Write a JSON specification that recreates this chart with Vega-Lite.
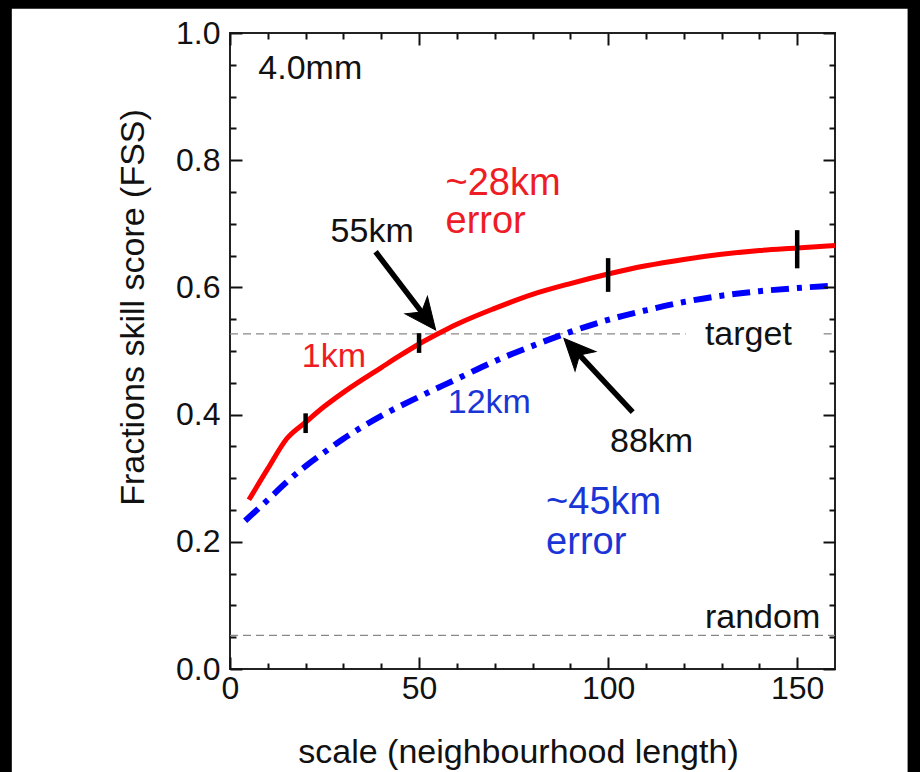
{
  "$schema": "https://vega.github.io/schema/vega-lite/v6.json",
  "width": 605,
  "height": 636,
  "autosize": {"type": "none"},
  "padding": {"left": 230, "top": 33, "right": 85, "bottom": 103},
  "background": "#000000",
  "config": {
    "view": {"stroke": null},
    "font": "Liberation Sans"
  },
  "datasets": {
    "red": [
      {"scale": 5, "fss": 0.266}, {"scale": 10, "fss": 0.315}, {"scale": 15, "fss": 0.362},
      {"scale": 20, "fss": 0.388}, {"scale": 25, "fss": 0.413}, {"scale": 30, "fss": 0.435},
      {"scale": 35, "fss": 0.455}, {"scale": 40, "fss": 0.474}, {"scale": 45, "fss": 0.493},
      {"scale": 50, "fss": 0.511}, {"scale": 55, "fss": 0.527}, {"scale": 60, "fss": 0.542},
      {"scale": 70, "fss": 0.567}, {"scale": 80, "fss": 0.589}, {"scale": 90, "fss": 0.606},
      {"scale": 100, "fss": 0.621}, {"scale": 110, "fss": 0.634}, {"scale": 120, "fss": 0.644},
      {"scale": 130, "fss": 0.652}, {"scale": 140, "fss": 0.658}, {"scale": 150, "fss": 0.662},
      {"scale": 160, "fss": 0.666}
    ],
    "blue": [
      {"scale": 4, "fss": 0.233}, {"scale": 10, "fss": 0.266}, {"scale": 15, "fss": 0.294},
      {"scale": 20, "fss": 0.319}, {"scale": 25, "fss": 0.341}, {"scale": 30, "fss": 0.362},
      {"scale": 40, "fss": 0.398}, {"scale": 50, "fss": 0.428}, {"scale": 60, "fss": 0.456},
      {"scale": 70, "fss": 0.484}, {"scale": 80, "fss": 0.508}, {"scale": 90, "fss": 0.53},
      {"scale": 100, "fss": 0.549}, {"scale": 110, "fss": 0.564}, {"scale": 120, "fss": 0.577},
      {"scale": 130, "fss": 0.587}, {"scale": 140, "fss": 0.594}, {"scale": 150, "fss": 0.599},
      {"scale": 160, "fss": 0.603}
    ],
    "errbars": [
      {"scale": 20, "lo": 0.371, "hi": 0.402},
      {"scale": 50, "lo": 0.497, "hi": 0.528},
      {"scale": 100, "lo": 0.593, "hi": 0.646},
      {"scale": 150, "lo": 0.63, "hi": 0.69}
    ],
    "refs": [
      {"line": "target", "from": 0, "to": 120.5, "fss": 0.527},
      {"line": "target", "from": 157, "to": 160, "fss": 0.527},
      {"line": "random", "from": 0, "to": 160, "fss": 0.053}
    ],
    "arrows": [
      {"label": "55km", "tailx": 38.5, "taily": 0.656, "neckx": 51.1, "necky": 0.558, "tipx": 54.4, "tipy": 0.533, "dir": 142},
      {"label": "88km", "tailx": 106.5, "taily": 0.404, "neckx": 91.9, "necky": 0.497, "tipx": 88.3, "tipy": 0.52, "dir": 317}
    ],
    "labels": [
      {"text": "4.0mm", "scale": 7.5, "fss": 0.928, "series": "none", "kind": "label"},
      {"text": "~28km", "scale": 57, "fss": 0.745, "series": "1km", "kind": "error"},
      {"text": "error", "scale": 57, "fss": 0.685, "series": "1km", "kind": "error"},
      {"text": "55km", "scale": 26.6, "fss": 0.671, "series": "none", "kind": "label"},
      {"text": "1km", "scale": 19.0, "fss": 0.475, "series": "1km", "kind": "label"},
      {"text": "12km", "scale": 57.6, "fss": 0.4025, "series": "12km", "kind": "label"},
      {"text": "88km", "scale": 100.5, "fss": 0.341, "series": "none", "kind": "label"},
      {"text": "target", "scale": 125.6, "fss": 0.509, "series": "none", "kind": "label"},
      {"text": "~45km", "scale": 83.6, "fss": 0.243, "series": "12km", "kind": "error"},
      {"text": "error", "scale": 83.6, "fss": 0.181, "series": "12km", "kind": "error"},
      {"text": "random", "scale": 125.6, "fss": 0.064, "series": "none", "kind": "label"}
    ]
  },
  "resolve": {"axis": {"x": "independent", "y": "independent"}},
  "layer": [
    {
      "data": {"values": [{"panel": "paper"}]},
      "mark": {"type": "rect", "fill": "#ffffff", "clip": false},
      "encoding": {
        "x": {
          "datum": -57.7, "type": "quantitative",
          "scale": {"domain": [0, 160], "nice": false, "zero": false},
          "axis": {
            "orient": "bottom", "offset": -12,
            "values": [0, 50, 100, 150],
            "format": "d", "domain": false,
            "labelFontSize": 32, "labelColor": "#111111", "labelFont": "Liberation Sans",
            "labelPadding": 4, "labelFlush": false, "labelOverlap": false,
            "ticks": true, "tickSize": 12, "tickOpacity": 1,
            "tickColor": "#111111", "tickWidth": 2,
            "grid": false, "zindex": 2,
            "title": "scale (neighbourhood length)",
            "titleFont": "Liberation Sans", "titleFontSize": 34, "titleFontWeight": "normal", "titleColor": "#111111",
            "titleX": 288, "titleY": 105, "titleAlign": "center", "titleBaseline": "alphabetic"
          }
        },
        "x2": {"datum": 179.2},
        "y": {
          "datum": -0.17, "type": "quantitative",
          "scale": {"domain": [0, 1], "nice": false, "zero": false},
          "axis": {
            "orient": "left", "offset": -12,
            "values": [0, 0.2, 0.4, 0.6, 0.8, 1.0],
            "format": ".1f", "domain": false,
            "labelFontSize": 32, "labelColor": "#111111", "labelFont": "Liberation Sans",
            "labelPadding": 10, "labelFlush": false, "labelOverlap": false,
            "ticks": true, "tickSize": 12, "tickOpacity": 1,
            "tickColor": "#111111", "tickWidth": 2,
            "grid": false, "zindex": 2,
            "title": "Fractions skill score (FSS)",
            "titleFont": "Liberation Sans", "titleFontSize": 34, "titleFontWeight": "normal", "titleColor": "#111111",
            "titleX": -99, "titleY": 274, "titleAngle": 270, "titleAlign": "center", "titleBaseline": "alphabetic"
          }
        },
        "y2": {"datum": 1.038}
      }
    },
    {
      "data": {"values": [{"panel": "frame"}]},
      "mark": {"type": "rect", "fill": null, "fillOpacity": 0, "stroke": "#222222", "strokeWidth": 2},
      "encoding": {
        "x": {"datum": 0, "type": "quantitative", "axis": null},
        "x2": {"datum": 160},
        "y": {"datum": 0, "type": "quantitative", "axis": null},
        "y2": {"datum": 1}
      }
    },
    {
      "data": {"name": "refs"},
      "mark": {"type": "rule", "color": "#888888", "strokeWidth": 1.3, "strokeDash": [8, 5]},
      "encoding": {
        "x": {
          "field": "from", "type": "quantitative",
          "axis": {
            "orient": "bottom", "offset": -6,
            "values": [10, 20, 30, 40, 60, 70, 80, 90, 110, 120, 130, 140],
            "labels": false, "title": null, "domain": false,
            "ticks": true, "tickSize": 6, "tickOpacity": 1, "tickColor": "#111111", "tickWidth": 2,
            "grid": false, "zindex": 1
          }
        },
        "x2": {"field": "to"},
        "y": {
          "field": "fss", "type": "quantitative",
          "axis": {
            "orient": "left", "offset": -6,
            "values": [0.05, 0.1, 0.15, 0.25, 0.3, 0.35, 0.45, 0.5, 0.55, 0.65, 0.7, 0.75, 0.85, 0.9, 0.95],
            "labels": false, "title": null, "domain": false,
            "ticks": true, "tickSize": 6, "tickOpacity": 1, "tickColor": "#111111", "tickWidth": 2,
            "grid": false, "zindex": 1
          }
        }
      }
    },
    {
      "data": {"name": "blue"},
      "mark": {"type": "line", "color": "#0000ff", "strokeWidth": 6, "strokeDash": [18, 8, 5, 8], "interpolate": "monotone"},
      "encoding": {
        "x": {
          "field": "scale", "type": "quantitative",
          "axis": {
            "orient": "top", "offset": -6,
            "values": [10, 20, 30, 40, 60, 70, 80, 90, 110, 120, 130, 140],
            "labels": false, "title": null, "domain": false,
            "ticks": true, "tickSize": 6, "tickOpacity": 1, "tickColor": "#111111", "tickWidth": 2,
            "grid": false, "zindex": 1
          }
        },
        "y": {
          "field": "fss", "type": "quantitative",
          "axis": {
            "orient": "right", "offset": -6,
            "values": [0.05, 0.1, 0.15, 0.25, 0.3, 0.35, 0.45, 0.5, 0.55, 0.65, 0.7, 0.75, 0.85, 0.9, 0.95],
            "labels": false, "title": null, "domain": false,
            "ticks": true, "tickSize": 6, "tickOpacity": 1, "tickColor": "#111111", "tickWidth": 2,
            "grid": false, "zindex": 1
          }
        }
      }
    },
    {
      "data": {"name": "red"},
      "mark": {"type": "line", "color": "#ff0000", "strokeWidth": 5, "interpolate": "monotone"},
      "encoding": {
        "x": {
          "field": "scale", "type": "quantitative",
          "axis": {
            "orient": "top", "offset": -12,
            "values": [0, 50, 100, 150],
            "labels": false, "title": null, "domain": false,
            "ticks": true, "tickSize": 12, "tickOpacity": 1, "tickColor": "#111111", "tickWidth": 2,
            "grid": false, "zindex": 2
          }
        },
        "y": {
          "field": "fss", "type": "quantitative",
          "axis": {
            "orient": "right", "offset": -12,
            "values": [0, 0.2, 0.4, 0.6, 0.8, 1.0],
            "labels": false, "title": null, "domain": false,
            "ticks": true, "tickSize": 12, "tickOpacity": 1, "tickColor": "#111111", "tickWidth": 2,
            "grid": false, "zindex": 2
          }
        }
      }
    },
    {
      "data": {"name": "errbars"},
      "mark": {"type": "rule", "color": "#000000", "strokeWidth": 4.5},
      "encoding": {
        "x": {"field": "scale", "type": "quantitative", "axis": null},
        "y": {"field": "lo", "type": "quantitative", "axis": null},
        "y2": {"field": "hi"}
      }
    },
    {
      "data": {"name": "arrows"},
      "mark": {"type": "rule", "color": "#000000", "strokeWidth": 5.5, "strokeCap": "butt"},
      "encoding": {
        "x": {"field": "tailx", "type": "quantitative", "axis": null},
        "y": {"field": "taily", "type": "quantitative", "axis": null},
        "x2": {"field": "neckx"},
        "y2": {"field": "necky"}
      }
    },
    {
      "data": {"name": "arrows"},
      "mark": {"type": "point", "shape": "M0,0L-0.9,2L0,1.45L0.9,2Z", "filled": true, "fill": "#000000", "stroke": "#000000", "strokeWidth": 1, "opacity": 1, "size": 1000},
      "encoding": {
        "x": {"field": "tipx", "type": "quantitative", "axis": null},
        "y": {"field": "tipy", "type": "quantitative", "axis": null},
        "angle": {"field": "dir", "type": "quantitative", "scale": null}
      }
    },
    {
      "data": {"name": "labels"},
      "transform": [{"filter": "datum.kind === 'label'"}],
      "mark": {"type": "text", "align": "left", "baseline": "alphabetic", "fontSize": 34, "font": "Liberation Sans"},
      "encoding": {
        "x": {"field": "scale", "type": "quantitative", "axis": null},
        "y": {"field": "fss", "type": "quantitative", "axis": null},
        "text": {"field": "text", "type": "nominal"},
        "color": {
          "field": "series", "type": "nominal",
          "scale": {"domain": ["1km", "12km", "none"], "range": ["#ee1c25", "#1a35d6", "#111111"]},
          "legend": null
        }
      }
    },
    {
      "data": {"name": "labels"},
      "transform": [{"filter": "datum.kind === 'error'"}],
      "mark": {"type": "text", "align": "left", "baseline": "alphabetic", "fontSize": 38, "font": "Liberation Sans"},
      "encoding": {
        "x": {"field": "scale", "type": "quantitative", "axis": null},
        "y": {"field": "fss", "type": "quantitative", "axis": null},
        "text": {"field": "text", "type": "nominal"},
        "color": {
          "field": "series", "type": "nominal",
          "scale": {"domain": ["1km", "12km", "none"], "range": ["#ee1c25", "#1a35d6", "#111111"]},
          "legend": null
        }
      }
    }
  ]
}
